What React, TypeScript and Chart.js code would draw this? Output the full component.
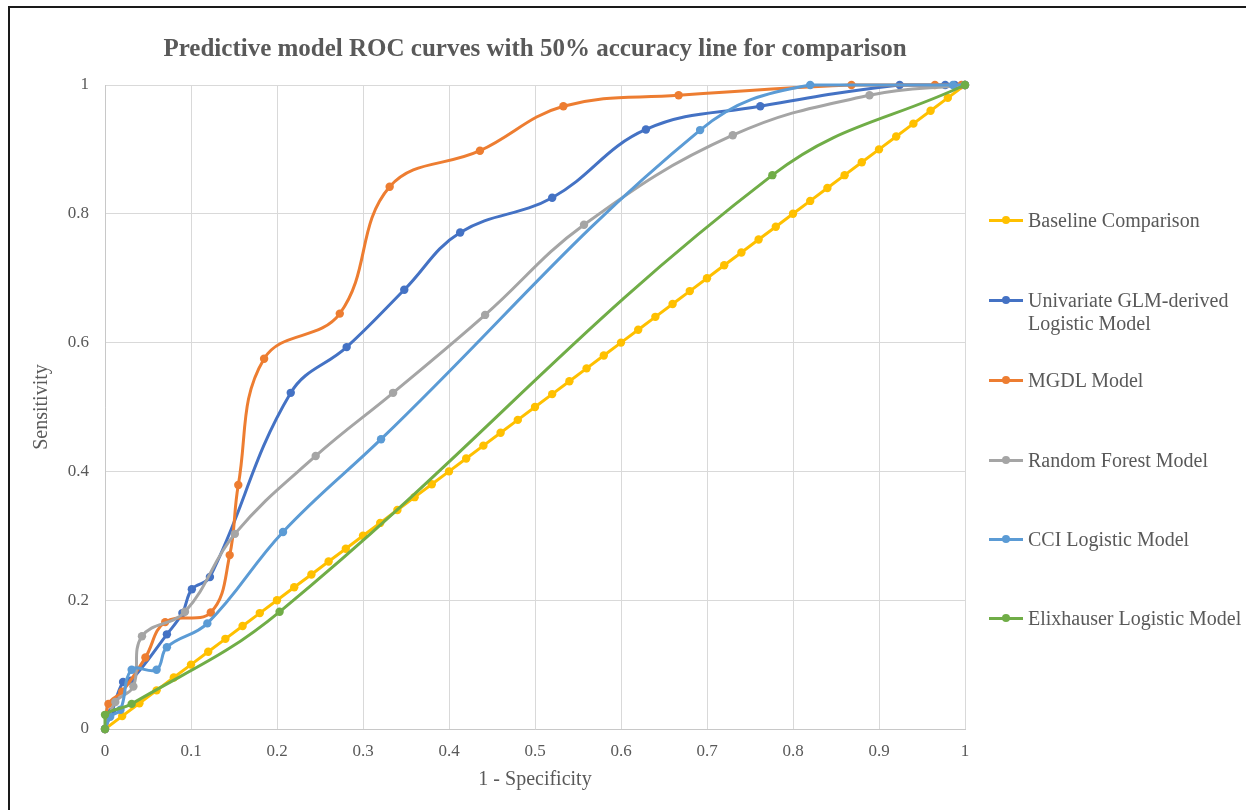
import React, { useEffect, useRef } from 'react';
import { Chart, registerables } from 'chart.js';

Chart.register(...registerables);

const titleText = 'Predictive model ROC curves with 50% accuracy line for comparison';
const xAxisTitle = '1 - Specificity';
const yAxisTitle = 'Sensitivity';
const xTickLabels = ['0', '0.1', '0.2', '0.3', '0.4', '0.5', '0.6', '0.7', '0.8', '0.9', '1'];
const yTickLabels = ['0', '0.2', '0.4', '0.6', '0.8', '1'];

const seriesNames = [
  'Baseline Comparison',
  'Univariate GLM-derived\nLogistic Model',
  'MGDL Model',
  'Random Forest Model',
  'CCI Logistic Model',
  'Elixhauser Logistic Model',
];
const seriesColors = ['#FFC000', '#4472C4', '#ED7D31', '#A5A5A5', '#5B9BD5', '#70AD47'];

const baselineX = [0, 0.02, 0.04, 0.06, 0.08, 0.1, 0.12, 0.14, 0.16, 0.18, 0.2, 0.22, 0.24, 0.26, 0.28, 0.3, 0.32, 0.34, 0.36, 0.38, 0.4, 0.42, 0.44, 0.46, 0.48, 0.5, 0.52, 0.54, 0.56, 0.58, 0.6, 0.62, 0.64, 0.66, 0.68, 0.7, 0.72, 0.74, 0.76, 0.78, 0.8, 0.82, 0.84, 0.86, 0.88, 0.9, 0.92, 0.94, 0.96, 0.98, 1];
const baselineY = [0, 0.02, 0.04, 0.06, 0.08, 0.1, 0.12, 0.14, 0.16, 0.18, 0.2, 0.22, 0.24, 0.26, 0.28, 0.3, 0.32, 0.34, 0.36, 0.38, 0.4, 0.42, 0.44, 0.46, 0.48, 0.5, 0.52, 0.54, 0.56, 0.58, 0.6, 0.62, 0.64, 0.66, 0.68, 0.7, 0.72, 0.74, 0.76, 0.78, 0.8, 0.82, 0.84, 0.86, 0.88, 0.9, 0.92, 0.94, 0.96, 0.98, 1];

const univariateX = [0, 0.008, 0.021, 0.03, 0.072, 0.09, 0.101, 0.122, 0.216, 0.281, 0.348, 0.413, 0.52, 0.629, 0.762, 0.924, 0.977, 0.988, 1];
const univariateY = [0, 0.027, 0.073, 0.075, 0.147, 0.18, 0.217, 0.236, 0.522, 0.593, 0.682, 0.771, 0.825, 0.931, 0.967, 1, 1, 1, 1];

const mgdlX = [0, 0.004, 0.02, 0.047, 0.07, 0.123, 0.145, 0.155, 0.185, 0.273, 0.331, 0.436, 0.533, 0.667, 0.868, 0.965, 0.996, 1];
const mgdlY = [0, 0.039, 0.058, 0.111, 0.166, 0.181, 0.27, 0.379, 0.575, 0.645, 0.842, 0.898, 0.967, 0.984, 1, 1, 1, 1];

const forestX = [0, 0.012, 0.033, 0.043, 0.093, 0.151, 0.245, 0.335, 0.442, 0.557, 0.73, 0.889, 1];
const forestY = [0, 0.042, 0.066, 0.144, 0.182, 0.303, 0.424, 0.522, 0.643, 0.783, 0.922, 0.984, 1];

const cciX = [0, 0.006, 0.018, 0.031, 0.06, 0.072, 0.119, 0.207, 0.321, 0.692, 0.82, 0.986, 1];
const cciY = [0, 0.019, 0.03, 0.092, 0.092, 0.127, 0.164, 0.306, 0.45, 0.93, 1, 1, 1];

const elixX = [0, 0, 0.031, 0.203, 0.776, 1];
const elixY = [0, 0.022, 0.039, 0.182, 0.86, 1];

const seriesX = [baselineX, univariateX, mgdlX, forestX, cciX, elixX];
const seriesY = [baselineY, univariateY, mgdlY, forestY, cciY, elixY];

const FONT = "'Liberation Serif', 'Times New Roman', serif";
const TEXT = '#595959';

// layout (pixels)
const W = 1246;
const H = 810;
const LEGEND_TOP = [220, 300, 380, 460, 539, 618];

export default function App() {
  const canvasRef = useRef<HTMLCanvasElement | null>(null);

  useEffect(() => {
    const canvas = canvasRef.current;
    if (!canvas) return;
    const datasets = seriesNames.map((name, i) => ({
      label: name,
      data: seriesX[i].map((x, j) => ({ x, y: seriesY[i][j] })),
      showLine: true,
      borderColor: seriesColors[i],
      backgroundColor: seriesColors[i],
      pointBackgroundColor: seriesColors[i],
      pointBorderColor: seriesColors[i],
      pointBorderWidth: 0,
      pointRadius: 4.2,
      borderWidth: 3,
      tension: i === 0 ? 0 : 0.4,
      clip: false as any,
      order: 6 - i,
    }));

    const chart = new Chart(canvas, {
      type: 'scatter',
      data: { datasets },
      options: {
        animation: false,
        responsive: false,
        devicePixelRatio: 1,
        layout: { padding: { left: 27, right: W - 965, top: 0, bottom: 0 } },
        plugins: {
          legend: { display: false },
          tooltip: { enabled: false },
          title: {
            display: true,
            text: titleText,
            fullSize: false,
            color: TEXT,
            font: { family: FONT, size: 25, weight: 'bold', lineHeight: 1.2 },
            padding: { top: 35, bottom: 20 },
          },
        },
        scales: {
          x: {
            type: 'linear',
            min: 0,
            max: 1,
            afterFit: (scale: any) => {
              scale.height = H - 729;
            },
            ticks: {
              stepSize: 0.1,
              padding: 12,
              color: TEXT,
              font: { family: FONT, size: 17 },
              maxRotation: 0,
              autoSkip: false,
              callback: (_v: any, index: number) => xTickLabels[index] ?? '',
            },
            grid: { color: '#d9d9d9', lineWidth: 1, drawTicks: false },
            border: { color: '#c8c8c8', width: 1 },
            title: {
              display: true,
              text: xAxisTitle,
              color: TEXT,
              font: { family: FONT, size: 20, lineHeight: 1.2 },
              padding: { top: 0, bottom: 18 },
            },
          },
          y: {
            type: 'linear',
            min: 0,
            max: 1,
            afterFit: (scale: any) => {
              scale.width = 105 - 27;
            },
            ticks: {
              stepSize: 0.2,
              padding: 16,
              color: TEXT,
              font: { family: FONT, size: 17 },
              autoSkip: false,
              callback: (_v: any, index: number) => yTickLabels[index] ?? '',
            },
            grid: { color: '#d9d9d9', lineWidth: 1, drawTicks: false },
            border: { color: '#c8c8c8', width: 1 },
            title: {
              display: true,
              text: yAxisTitle,
              color: TEXT,
              font: { family: FONT, size: 20, lineHeight: 1.2 },
              padding: { top: 3, bottom: 0 },
            },
          },
        },
      },
    });
    return () => chart.destroy();
  }, []);

  return (
    <div style={{ position: 'fixed', left: 0, top: 0, width: W, height: H, overflow: 'hidden', background: '#fff' }}>
      <div
        style={{
          position: 'absolute',
          left: 8,
          top: 6,
          width: W + 50,
          height: H + 50,
          borderLeft: '2px solid #1a1a1a',
          borderTop: '2px solid #1a1a1a',
        }}
      />
      <canvas ref={canvasRef} width={W} height={H} style={{ position: 'absolute', left: 0, top: 0, width: W, height: H }} />
      {seriesNames.map((name, i) => (
        <div key={name}>
          <div
            style={{
              position: 'absolute',
              left: 989,
              top: LEGEND_TOP[i] - 1.5,
              width: 34,
              height: 3,
              background: seriesColors[i],
            }}
          />
          <div
            style={{
              position: 'absolute',
              left: 1006 - 4,
              top: LEGEND_TOP[i] - 4,
              width: 8,
              height: 8,
              borderRadius: 4,
              background: seriesColors[i],
            }}
          />
          <div
            style={{
              position: 'absolute',
              left: 1028,
              top: LEGEND_TOP[i] - 11.5,
              fontFamily: FONT,
              fontSize: 20,
              lineHeight: '23px',
              color: TEXT,
              whiteSpace: 'pre',
            }}
          >
            {name}
          </div>
        </div>
      ))}
    </div>
  );
}
